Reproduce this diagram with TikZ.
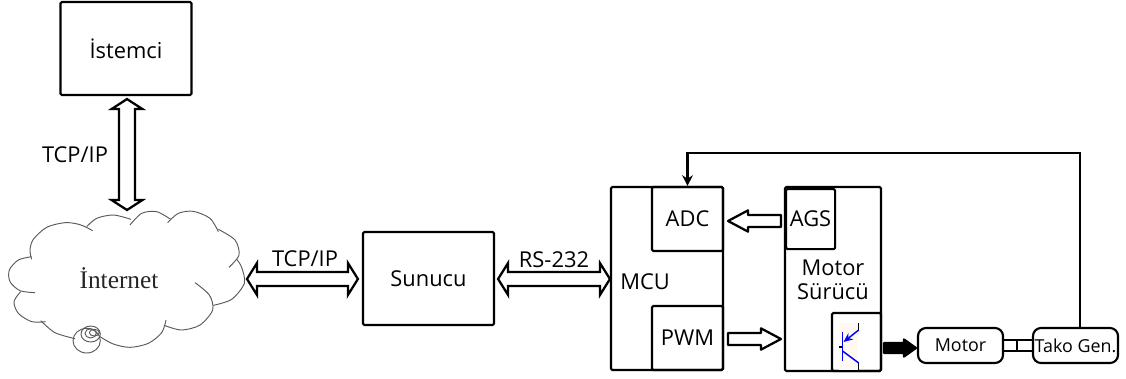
\documentclass[tikz,border=0pt]{standalone}
\usepackage{fontspec}
\setmainfont{Open Sans}
\newfontfamily\cloudfont{Liberation Serif}
\usetikzlibrary{calc,arrows.meta}
\tikzset{
  box/.style n args={2}{draw=black,line width=1.6pt,rounded corners=1pt,inner sep=0pt,
    minimum width=#1*0.75pt,minimum height=#2*0.75pt,font=\fontsize{16.4}{19}\selectfont},
  lbl/.style={inner sep=0pt,font=\fontsize{16.4}{19}\selectfont,text=black},
  rbox/.style n args={2}{box={#1}{#2},rounded corners=6pt,font=\fontsize{13.4}{15}\selectfont},
  hollowtwo/.style n args={3}{draw=black,line width=1.7pt,line join=miter,fill=white,
    to path={
      -- ($(\tikztostart)!#3!(\tikztotarget)!#2!90:(\tikztotarget)$)
      -- ($(\tikztostart)!#3!(\tikztotarget)!#1!90:(\tikztotarget)$)
      -- ($(\tikztotarget)!#3!(\tikztostart)!#1!-90:(\tikztostart)$)
      -- ($(\tikztotarget)!#3!(\tikztostart)!#2!-90:(\tikztostart)$)
      -- (\tikztotarget)
      -- ($(\tikztotarget)!#3!(\tikztostart)!#2!90:(\tikztostart)$)
      -- ($(\tikztotarget)!#3!(\tikztostart)!#1!90:(\tikztostart)$)
      -- ($(\tikztostart)!#3!(\tikztotarget)!#1!-90:(\tikztotarget)$)
      -- ($(\tikztostart)!#3!(\tikztotarget)!#2!-90:(\tikztotarget)$)
      -- cycle}},
  hollowone/.style n args={3}{draw=black,line width=1.7pt,line join=round,fill=white,
    to path={
      -- ($(\tikztostart)!#1!90:(\tikztotarget)$)
      -- ($(\tikztotarget)!#3!(\tikztostart)!#1!-90:(\tikztostart)$)
      -- ($(\tikztotarget)!#3!(\tikztostart)!#2!-90:(\tikztostart)$)
      -- (\tikztotarget)
      -- ($(\tikztotarget)!#3!(\tikztostart)!#2!90:(\tikztostart)$)
      -- ($(\tikztotarget)!#3!(\tikztostart)!#1!90:(\tikztostart)$)
      -- ($(\tikztostart)!#1!-90:(\tikztotarget)$)
      -- cycle}},
  wire/.style={draw=black,line width=1.6pt},
  cloudline/.style={draw=black!65,line width=0.7pt},
}
\begin{document}
\begin{tikzpicture}[x=0.75pt,y=-0.75pt]
\useasboundingbox (0,0) rectangle (1126,378);

% cloud
\begin{scope}[x=0.25pt,y=-0.25pt,yshift=-135pt,cloudline]
  \draw plot[smooth] coordinates {(278,152) (240,134) (195,128) (140,142) (100,178) (90,210) (95,238)};
  \draw plot[smooth] coordinates {(95,230) (55,240) (28,270) (30,305) (60,332) (105,338)};
  \draw plot[smooth] coordinates {(62,335) (42,365) (55,400) (95,425) (137,425)};
  \draw plot[smooth] coordinates {(122,422) (165,458) (225,476)};
  \draw plot[smooth] coordinates {(300,470) (340,492) (390,502) (445,490) (485,458) (498,420)};
  \draw plot[smooth] coordinates {(495,437) (545,450) (600,435) (638,390) (628,345) (585,308)};
  \draw plot[smooth] coordinates {(640,376) (695,358) (733,310) (725,262) (710,238)};
  \draw plot[smooth] coordinates {(687,262) (717,225) (705,180) (655,148)};
  \draw plot[smooth] coordinates {(655,155) (630,115) (580,94) (535,100) (503,128)};
  \draw plot[smooth] coordinates {(512,118) (470,95) (425,100) (390,135)};
  \draw plot[smooth] coordinates {(393,118) (340,105) (290,115) (260,140)};
  \draw (260,482) ellipse [x radius=41,y radius=37];
  \draw (272,462) ellipse [x radius=29,y radius=24];
  \draw (272,460) ellipse [x radius=17,y radius=14];
  \draw (283,458) ellipse [x radius=15,y radius=10];
\end{scope}
\node[inner sep=0pt,text=black!85,font=\cloudfont\fontsize{19}{20}\selectfont] (internet) at (119,278) {İnternet};
\coordinate (cloudtop) at (127,210);
\coordinate (cloudright) at (247,279);

% boxes
\node[box={131}{93}] (istemci) at (126,48.5) {İstemci};
\node[box={131}{93}] (sunucu) at (428.5,278.5) {\raisebox{-1.2pt}{Sunucu}};
\node[box={112}{183}] (mcu) at (667,278.5) {};
\node[box={71}{64},anchor=north east] (adc) at (mcu.north east) {\raisebox{-1.5pt}{ADC}};
\node[box={71}{64},anchor=south east] (pwm) at (mcu.south east) {PWM};
\node[lbl] (mculbl) at (645,282) {MCU};
\node[box={96}{184}] (drv) at (833,279) {};
\node[box={49}{60},anchor=north west] (ags) at (785,188) {AGS};
\node[lbl,align=center] (drvlbl) at (833,280) {Motor\\[-1pt]Sürücü};
\node[box={49}{58},anchor=south east] (igbt) at (drv.south east) {};
\node[rbox={85}{35}] (motor) at (960.5,345.5) {Motor};
\node[rbox={85}{35}] (tako) at (1075.5,345.5) {Tako Gen.};

% IGBT symbol
\fill[orange!5] (839,323) rectangle (858,370);
\draw[line width=0.9pt] (858.7,323) -- (858.7,330);
\draw[line width=0.9pt] (858.7,363) -- (858.7,370);
\draw[line width=0.9pt] (839,347) -- (842.5,347);
\draw[blue,line width=1.1pt] (842.5,332) -- (842.5,361);
\draw[blue,line width=1.1pt,{Stealth[length=7pt,width=6pt]}-] (843.5,342) -- (858.7,330);
\draw[blue,line width=1.1pt] (842.5,351) -- (858.7,363);

% hollow arrows
\draw[hollowtwo={6pt}{11.6pt}{7.5pt}] ($(istemci.south)+(1,3)$) to (cloudtop);
\draw[hollowtwo={5.25pt}{12pt}{7.5pt}] (cloudright) to ($(sunucu.west)+(-4,0.5)$);
\draw[hollowtwo={5.25pt}{12pt}{7.5pt}] ($(sunucu.east)+(3,0.5)$) to ($(mcu.west)+(0,0.5)$);
\draw[hollowone={4.5pt}{8pt}{15pt}] ($(drv.west)+(-3,-58)$) to ($(adc.east)+(4,2)$);
\draw[hollowone={4.5pt}{8pt}{15pt}] ($(pwm.east)+(4,1)$) to ($(drv.west)+(-3,60)$);
\draw[hollowone={3.75pt}{6.4pt}{9pt},fill=black] ($(igbt.east)+(2,6)$) to ($(motor.west)+(-1,2.5)$);

% shaft
\draw[wire] ([yshift=4.1pt]motor.east) -- ([yshift=4.1pt]tako.west);
\draw[wire] ([yshift=-4.1pt]motor.east) -- ([yshift=-4.1pt]tako.west);
\draw[wire] ($([yshift=4.1pt]motor.east)!0.47!([yshift=4.1pt]tako.west)$) -- ($([yshift=-4.1pt]motor.east)!0.47!([yshift=-4.1pt]tako.west)$);

% feedback
\draw[wire,-{Stealth[length=8pt,width=8pt]}] ([xshift=3.4pt]tako.north) |- ([yshift=24.75pt]adc.north) -- (adc.north);

% labels
\node[lbl] (tcpa) at (75,155) {TCP/IP};
\node[lbl] (tcpb) at (305,259) {TCP/IP};
\node[lbl] (rs) at (554,260) {RS-232};
\end{tikzpicture}
\end{document}
